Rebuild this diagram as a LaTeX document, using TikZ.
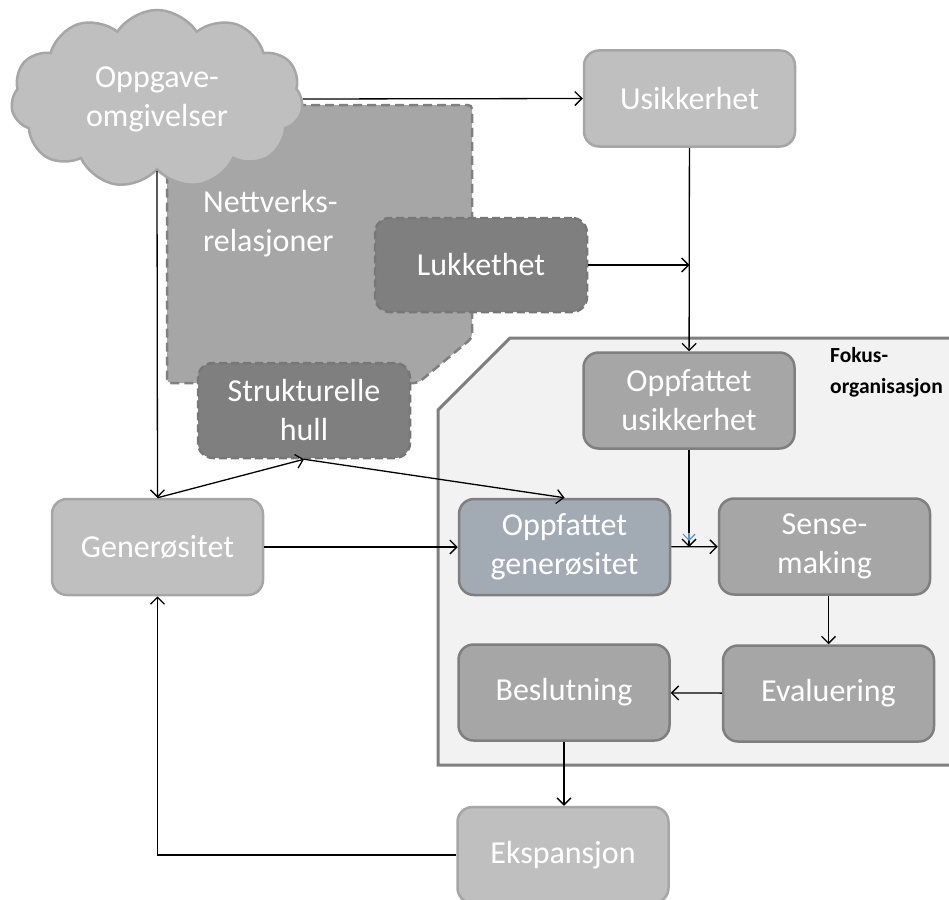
\documentclass[tikz,border=0pt]{standalone}
\usepackage{fontspec}
\setmainfont{Carlito}
\usetikzlibrary{arrows.meta,shapes.symbols,calc}

\definecolor{lightbox}{HTML}{BFBFBF}
\definecolor{lightedge}{HTML}{A6A6A6}
\definecolor{midbox}{HTML}{A6A6A6}
\definecolor{midedge}{HTML}{7F7F7F}
\definecolor{darkbox}{HTML}{7F7F7F}
\definecolor{darkedge}{HTML}{777777}
\definecolor{bluebox}{HTML}{A2AAB4}
\definecolor{focusfill}{HTML}{F2F2F2}
\definecolor{tipblue}{HTML}{5B8FD0}

\tikzset{
  box/.style={rounded corners=15pt, minimum width=211pt, minimum height=96pt,
    line width=2.5pt, text=white, align=center, inner sep=2pt,
    font=\fontsize{32}{39}\selectfont},
  lightnode/.style={box, fill=lightbox, draw=lightedge},
  midnode/.style={box, fill=midbox, draw=midedge},
  bluenode/.style={box, fill=bluebox, draw=midedge},
  darknode/.style={box, fill=darkbox, draw=darkedge, dash pattern=on 8pt off 4pt},
  arr/.style={line width=1.3pt, -{Straight Barb[length=7pt,width=14pt,line width=1.3pt]}},
}

\begin{document}
\begin{tikzpicture}[x=1pt,y=-1pt]
\useasboundingbox (0,0) rectangle (949,899);

% focal organisation region
\draw[fill=focusfill, draw=midedge, line width=3pt]
  (510,338) -- (965,338) -- (965,765) -- (438,765) -- (438,410) -- cycle;
\node[anchor=north west, align=left, inner sep=0pt,
  font=\bfseries\fontsize{21.5}{31}\selectfont] (fokuslbl) at (830,347) {Fokus-\\organisasjon};

% network relations area
\draw[fill=midbox, draw=midedge, line width=2.5pt, dash pattern=on 9pt off 5pt, rounded corners=4pt]
  (167,105) -- (472,105) -- (472,338) -- (418,383) -- (167,383) -- cycle;
\node[anchor=west, align=left, inner sep=0pt, text=white,
  font=\fontsize{32}{39}\selectfont] (netlbl) at (203,224) {Nettverks-\\relasjoner};

% task environment
\node[cloud, cloud puffs=11, cloud puff arc=115, aspect=1.65,
  fill=lightbox, draw=lightedge, line width=2.5pt,
  minimum width=292pt, minimum height=178pt, inner sep=0pt,
  text=white, align=center, font=\fontsize{32}{39}\selectfont] (env) at (157,99) {Oppgave-\\omgivelser};

% boxes
\node[lightnode] (usik) at (689.5,98.5) {Usikkerhet};
\node[lightnode] (gen) at (157.5,547) {Generøsitet};
\node[lightnode] (eksp) at (563,855) {Ekspansjon};
\node[midnode] (ousik) at (689,400.5) {Oppfattet\\usikkerhet};
\node[bluenode] (ogen) at (564.5,547) {Oppfattet\\generøsitet};
\node[midnode] (sense) at (824.5,546.5) {Sense-\\making};
\node[midnode] (eval) at (828.5,693.5) {Evaluering};
\node[midnode] (besl) at (564,692.5) {Beslutning};
\node[darknode, minimum width=212pt, minimum height=94pt] (lukk) at (481,265) {Lukkethet};
\node[darknode, minimum width=212pt, minimum height=95pt] (hull) at (304,410.5) {Strukturelle\\hull};

% connectors
\coordinate (junc) at (ousik.south |- ogen.east);
\draw[arr] (env.east) -- (usik.west);
\draw[arr] (env.south) -- (gen.north);
\draw[arr] (usik) -- (ousik);
\draw[arr] (lukk.east) -- (lukk.east -| usik.south);
\draw[arr] (gen.north) -- (hull.south);
\draw[arr] (hull.south) -- (ogen.north);
\draw[arr] (gen) -- (ogen);
\draw[arr] (ogen) -- (sense);
\draw[arr] (ousik) -- (junc);
\draw[line width=1.3pt, tipblue, -{Straight Barb[length=6pt,width=12pt,line width=1.2pt]}]
  ($(junc)+(0,-14)$) -- ($(junc)+(0,-6)$);
\draw[arr] (eval.north |- sense.south) -- (eval.north);
\draw[arr] (eval) -- (besl);
\draw[arr] (besl.south) -- (besl.south |- eksp.north);
\draw[arr] (eksp.west) -| (gen.south);
\end{tikzpicture}
\end{document}
